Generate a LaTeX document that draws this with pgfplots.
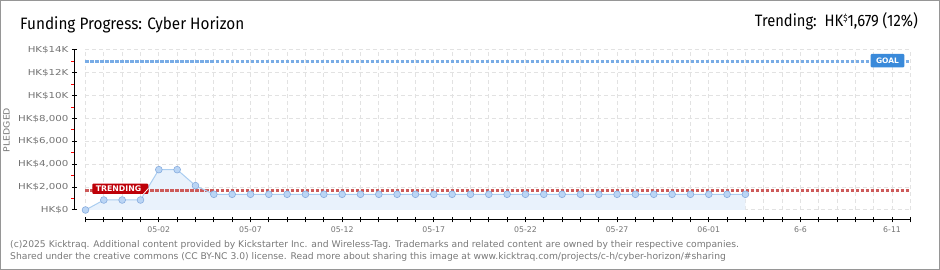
\documentclass[border=0pt]{standalone}
\usepackage{pgfplots}
\pgfplotsset{compat=1.18}
\usepackage{fontspec}
\setmainfont{DejaVu Sans}
\newfontfamily\titlefont{Fira Sans}
\definecolor{framegray}{RGB}{150,150,150}
\definecolor{textgray}{RGB}{120,120,120}
\definecolor{tickgray}{RGB}{115,115,115}
\definecolor{gridgray}{RGB}{226,226,226}
\definecolor{goalline}{RGB}{120,172,230}
\definecolor{goalbox}{RGB}{58,138,218}
\definecolor{trendline}{RGB}{205,90,90}
\definecolor{trendbox}{RGB}{190,0,8}
\definecolor{dataline}{RGB}{170,205,240}
\definecolor{areafill}{RGB}{233,242,252}
\definecolor{markfill}{RGB}{186,213,245}
\definecolor{markdraw}{RGB}{135,172,222}
\newcommand{\yl}[1]{\scalebox{1.25}[1]{#1}}

\pgfplotstableread{
day pledged
0 0
1 875
2 875
3 875
4 3530
5 3530
6 2130
7 1375
8 1375
9 1375
10 1375
11 1375
12 1375
13 1375
14 1375
15 1375
16 1375
17 1375
18 1375
19 1375
20 1375
21 1375
22 1375
23 1375
24 1375
25 1375
26 1375
27 1375
28 1375
29 1375
30 1375
31 1375
32 1375
33 1375
34 1375
35 1375
36 1375
}\pledgedtable

\begin{document}
\begin{tikzpicture}[x=1pt,y=1pt]
\useasboundingbox (0,0) rectangle (940,270);
\draw[framegray, line width=1.2pt] (0.6,0.6) rectangle (939.4,269.4);
\node[anchor=base west, inner sep=0, font=\titlefont\fontsize{16.5}{18}\selectfont] at (20,240) {\scalebox{0.928}[1]{Funding Progress: Cyber Horizon}};
\node[anchor=base east, inner sep=0, font=\titlefont\fontsize{16.5}{18}\selectfont] at (918,243) {\scalebox{0.893}[1]{Trending:\ \ HK\raisebox{0.35em}{\fontsize{9}{9}\selectfont\$}1,679 (12\%)}};
\node[anchor=base west, inner sep=0, text=textgray, font=\fontsize{9.2}{10}\selectfont] at (10,22) {(c)2025 Kicktraq. Additional content provided by Kickstarter Inc. and Wireless-Tag. Trademarks and related content are owned by their respective companies.};
\node[anchor=base west, inner sep=0, text=textgray, font=\fontsize{9.2}{10}\selectfont] at (10,10.7) {Shared under the creative commons (CC BY-NC 3.0) license. Read more about sharing this image at www.kicktraq.com/projects/c-h/cyber-horizon/\#sharing};
\node[rotate=90, text=textgray, font=\fontsize{8.5}{8}\selectfont] at (6.5,140) {\scalebox{1.1}[1]{PLEDGED}};

\begin{axis}[
  at={(74.5pt,50pt)}, anchor=south west,
  scale only axis, width=835.9pt, height=170pt,
  xmin=-0.6, xmax=45, ymin=-875, ymax=14000,
  scaled y ticks=false,
  axis x line*=bottom, axis y line*=left,
  axis line style={draw=none},
  clip=false,
  xtick={0,...,45},
  xticklabels={{},{},{},{},05-02,{},{},{},{},05-07,{},{},{},{},05-12,{},{},{},{},05-17,{},{},{},{},05-22,{},{},{},{},05-27,{},{},{},{},06-01,{},{},{},{},6-6,{},{},{},{},6-11,{}},
  ytick={0,2000,4000,6000,8000,10000,12000,14000},
  yticklabels={{\yl{HK\$0}},{\yl{HK\$2,000}},{\yl{HK\$4,000}},{\yl{HK\$6,000}},{\yl{HK\$8,000}},{\yl{HK\$10K}},{\yl{HK\$12K}},{\yl{HK\$14K}}},
  minor ytick={1000,3000,5000,7000,9000,11000,13000},
  tick align=center,
  major tick length=5pt, minor tick length=3pt,
  major tick style={black, line width=1pt},
  minor tick style={red, line width=1pt, xshift=-1.5pt},
  xticklabel style={text=tickgray, font=\fontsize{7.8}{8}\selectfont, yshift=-1pt},
  yticklabel style={text=tickgray, font=\fontsize{8.2}{9}\selectfont},
]
% grid
\pgfplotsinvokeforeach{0,...,45}{
  \draw[gridgray, line width=1pt, dash pattern=on 4pt off 3pt] (axis cs:#1,0) -- (axis cs:#1,14000);
}
\pgfplotsinvokeforeach{0,2000,4000,6000,8000,10000,12000,14000}{
  \draw[gridgray, line width=1pt, dash pattern=on 4pt off 3pt] (axis cs:0,#1) -- (axis cs:45,#1);
}
% axis lines
\draw[black, line width=1pt] (axis cs:-0.6,0) -- (axis cs:-0.6,14000);
\draw[black, line width=1pt] (axis cs:0,-875) -- (axis cs:45,-875);
% area
\addplot[draw=none, fill=areafill] table[x=day, y=pledged] {\pledgedtable} \closedcycle;
% goal & trending
\addplot[goalline, line width=3pt, dash pattern=on 3.4pt off 1.6pt] coordinates {(0,13000) (45,13000)};
\addplot[trendline, line width=3pt, dash pattern=on 3.4pt off 1.6pt] coordinates {(0,1679) (45,1679)};
% data
\addplot[dataline, line width=1pt, mark=*, mark size=3.4pt, mark options={fill=markfill, draw=markdraw, line width=0.6pt}] table[x=day, y=pledged] {\pledgedtable};
\end{axis}

% labels on lines
\fill[goalbox, rounded corners=1pt] (870.7,202.7) rectangle (904.3,216);
\node[text=white, font=\bfseries\fontsize{7.5}{8}\selectfont, inner sep=0] at (887.5,209.4) {GOAL};
\fill[trendbox, rounded corners=1pt] (92.3,76) rectangle (148.3,86.3);
\draw[white, line width=0.8pt] (143.5,76) -- (148.3,81.5);
\node[text=white, font=\bfseries\fontsize{7.8}{8}\selectfont, inner sep=0] at (118.5,81.2) {TRENDING};
\end{tikzpicture}
\end{document}
